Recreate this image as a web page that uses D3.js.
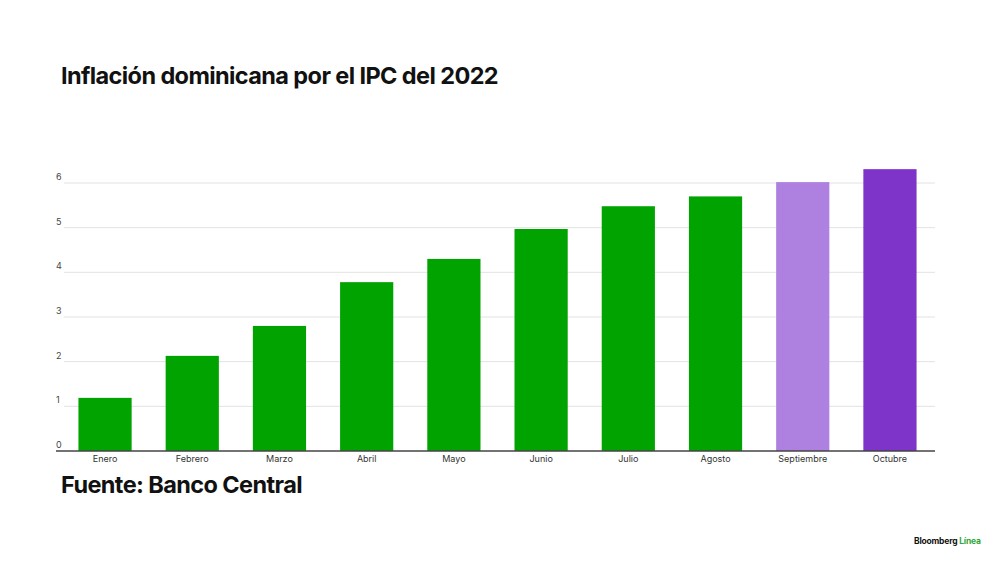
<!DOCTYPE html>
<html><head><meta charset="utf-8">
<script src="https://cdn.jsdelivr.net/npm/d3@7"></script>
<style>body{margin:0;background:#fff}svg{display:block}</style>
</head><body>
<svg id="chart" width="1000" height="562"></svg>
<script>
var months = ["Enero","Febrero","Marzo","Abril","Mayo","Junio","Julio","Agosto","Septiembre","Octubre"];
var values = [1.19, 2.13, 2.80, 3.78, 4.30, 4.97, 5.48, 5.70, 6.02, 6.31];
var barColors = ["#00a300","#00a300","#00a300","#00a300","#00a300","#00a300","#00a300","#00a300","#ae80e0","#7e33c9"];
var yTicks = [0,1,2,3,4,5,6];

var svg = d3.select("#chart");
var font = "Inter, 'Noto Sans', sans-serif";

var xScale = d3.scaleBand().domain(months).range([61, 934]).paddingInner(0.39).paddingOuter(0.2);
var yScale = d3.scaleLinear().domain([0, 6]).range([451, 183]);

svg.append("text").attr("x", 61).attr("y", 84)
  .style("font-family", font).style("font-size", "23.5px").style("font-weight", 700)
  .style("letter-spacing", "-0.6px").attr("fill", "#111")
  .text("Inflación dominicana por el IPC del 2022");

var grid = svg.append("g");
grid.selectAll("line").data(yTicks.filter(d => d > 0)).enter().append("line")
  .attr("x1", 64).attr("x2", 935)
  .attr("y1", d => yScale(d)).attr("y2", d => yScale(d))
  .attr("stroke", "#e2e2e2").attr("stroke-width", 1);
grid.selectAll("text").data(yTicks).enter().append("text")
  .attr("x", 56).attr("y", d => yScale(d) - 3)
  .style("font-family", font).style("font-size", "9px").attr("fill", "#444")
  .text(d => d);

svg.append("g").selectAll("rect").data(values).enter().append("rect")
  .attr("x", (d, i) => xScale(months[i]))
  .attr("width", xScale.bandwidth())
  .attr("y", d => yScale(d))
  .attr("height", d => yScale(0) - yScale(d))
  .attr("fill", (d, i) => barColors[i]);

svg.append("line").attr("x1", 56).attr("x2", 935)
  .attr("y1", yScale(0)).attr("y2", yScale(0))
  .attr("stroke", "#444").attr("stroke-width", 1.5);

svg.append("g").selectAll("text").data(months).enter().append("text")
  .attr("x", d => xScale(d) + xScale.bandwidth() / 2).attr("y", 462)
  .attr("text-anchor", "middle")
  .style("font-family", font).style("font-size", "9px").attr("fill", "#333")
  .text(d => d);

svg.append("text").attr("x", 61).attr("y", 493)
  .style("font-family", font).style("font-size", "23.5px").style("font-weight", 700)
  .style("letter-spacing", "-0.6px").attr("fill", "#111")
  .text("Fuente: Banco Central");

var logo = svg.append("text").attr("x", 914).attr("y", 544)
  .style("font-family", font).style("font-size", "8.5px").style("font-weight", 700)
  .style("letter-spacing", "-0.2px");
logo.append("tspan").attr("fill", "#111").text("Bloomberg ");
logo.append("tspan").attr("fill", "#2ea836").text("Línea");
</script>
</body></html>
